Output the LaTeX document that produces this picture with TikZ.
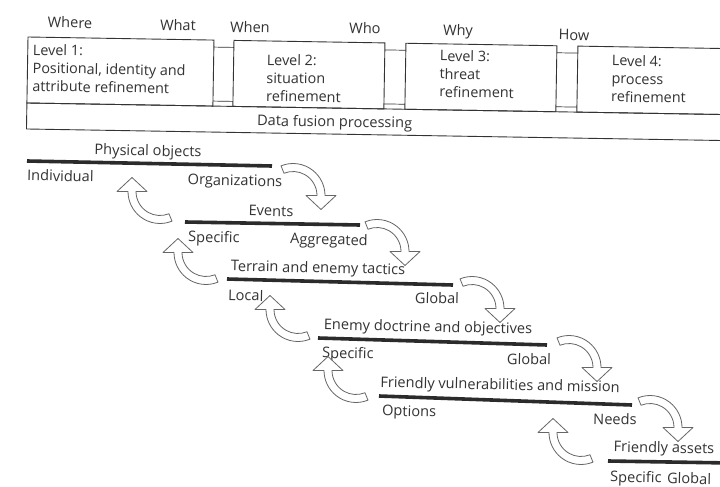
\documentclass[tikz,border=0pt]{standalone}
\usepackage{fontspec}
\setmainfont{Open Sans}
\usetikzlibrary{calc}
\definecolor{ink}{HTML}{333333}
\definecolor{barink}{HTML}{2B2B2B}
\definecolor{arrowink}{HTML}{666666}

\tikzset{
  lbl/.style={font=\fontsize{14.6}{17}\selectfont, text=ink, inner sep=0pt, rotate=-1.2},
  boxtext/.style={font=\fontsize{14.4}{18}\selectfont, text=ink, inner sep=0pt,
    align=left, anchor=north west},
  frame/.style={draw=ink, line width=0.9pt},
  barline/.style={draw=barink, line width=3.6pt},
  turn/.pic={
    \draw[draw=arrowink, line width=0.8pt, fill=white, line join=round]
      (-112:32) arc[start angle=-112, end angle=0, radius=32]
      -- (0:43) -- (28,14) -- (0:13) -- (0:24)
      arc[start angle=0, end angle=-112, radius=24] -- cycle;
  }
}

\begin{document}
\begin{tikzpicture}[x=1pt, y=-1pt]
\useasboundingbox (0,0) rectangle (720,487);
\fill[white] (0,0) rectangle (720,487);
\clip (0,0) rectangle (720,487);

% question words above the levels
\node[lbl] (qwhere) at (70,22.5) {Where};
\node[lbl] (qwhat)  at (178,25) {What};
\node[lbl] (qwhen)  at (250,27) {When};
\node[lbl] (qwho)   at (365,28) {Who};
\node[lbl] (qwhy)   at (458,32) {Why};
\node[lbl] (qhow)   at (574,35) {How};

% the four refinement levels on the processing band
\begin{scope}[rotate around={-0.95:(28,37)}, transform shape]
  \draw[frame] (28,37) rectangle (214,103);
  \draw[frame] (234,37) rectangle (385,103);
  \draw[frame] (406,37) rectangle (557,103);
  \draw[frame] (578,37) rectangle (740,103);
  \draw[frame] (28,103) rectangle (740,129);
  % links between neighbouring levels
  \foreach \a/\b in {214/234, 385/406, 557/578}{
    \draw[frame, line width=0.7pt] (\a,44) -- (\b,44);
    \draw[frame, line width=0.7pt] (\a,98) -- (\b,98);
  }
  \node[boxtext] (lev1) at (33,44) {Level 1:\\Positional, identity and\\attribute refinement};
  \node[boxtext] (lev2) at (267,50) {Level 2:\\situation\\refinement};
  \node[boxtext] (lev3) at (440,43) {Level 3:\\threat\\refinement};
  \node[boxtext] (lev4) at (612,45) {Level 4:\\process\\refinement};
  \node[lbl, rotate=1.2] (dfp) at (336,118) {Data fusion processing};
\end{scope}

% staircase of assessment scales
\coordinate (b1s) at (27,161);  \coordinate (b1e) at (272,166);
\coordinate (b2s) at (185,222); \coordinate (b2e) at (360,225);
\coordinate (b3s) at (227,279); \coordinate (b3e) at (453,285);
\coordinate (b4s) at (318,338); \coordinate (b4e) at (547,345);
\coordinate (b5s) at (379,396); \coordinate (b5e) at (632,405);
\coordinate (b6s) at (608,461); \coordinate (b6e) at (730,463);
\foreach \i in {1,...,6}{\draw[barline] (b\i s) -- (b\i e);}

\node[lbl] (t1) at (148,152) {Physical objects};
\node[lbl, anchor=west] (l1) at (27,175) {Individual};
\node[lbl] (r1) at (235,182) {Organizations};

\node[lbl] (t2) at (271,211) {Events};
\node[lbl, anchor=west] (l2) at (188,238) {Specific};
\node[lbl] (r2) at (329,241) {Aggregated};

\node[lbl] (t3) at (318,269) {Terrain and enemy tactics};
\node[lbl, anchor=west] (l3) at (228,295) {Local};
\node[lbl] (r3) at (437,298) {Global};

\node[lbl] (t4) at (428,328) {Enemy doctrine and objectives};
\node[lbl, anchor=west] (l4) at (322,354) {Specific};
\node[lbl] (r4) at (529,359) {Global};

\node[lbl] (t5) at (500,386) {Friendly vulnerabilities and mission};
\node[lbl, anchor=west] (l5) at (382,412) {Options};
\node[lbl] (r5) at (615,419) {Needs};

\node[lbl] (t6) at (664,449) {Friendly assets};
\node[lbl, anchor=west] (l6) at (610,478) {Specific};
\node[lbl, anchor=west] (r6) at (667,478) {Global};

% turning arrows: down the staircase on the right, back up on the left
\pic at (293,195.5) {turn};
\pic at (377,251.5) {turn};
\pic at (472,308.5) {turn};
\pic at (569,367.5) {turn};
\pic at (650,427.5) {turn};

\pic[rotate=180] at (160,191.5) {turn};
\pic[rotate=180] at (206,252.5) {turn};
\pic[rotate=180] at (298,309.5) {turn};
\pic[rotate=180] at (356,370.5) {turn};
\pic[rotate=180] at (581,432.5) {turn};
\end{tikzpicture}
\end{document}
